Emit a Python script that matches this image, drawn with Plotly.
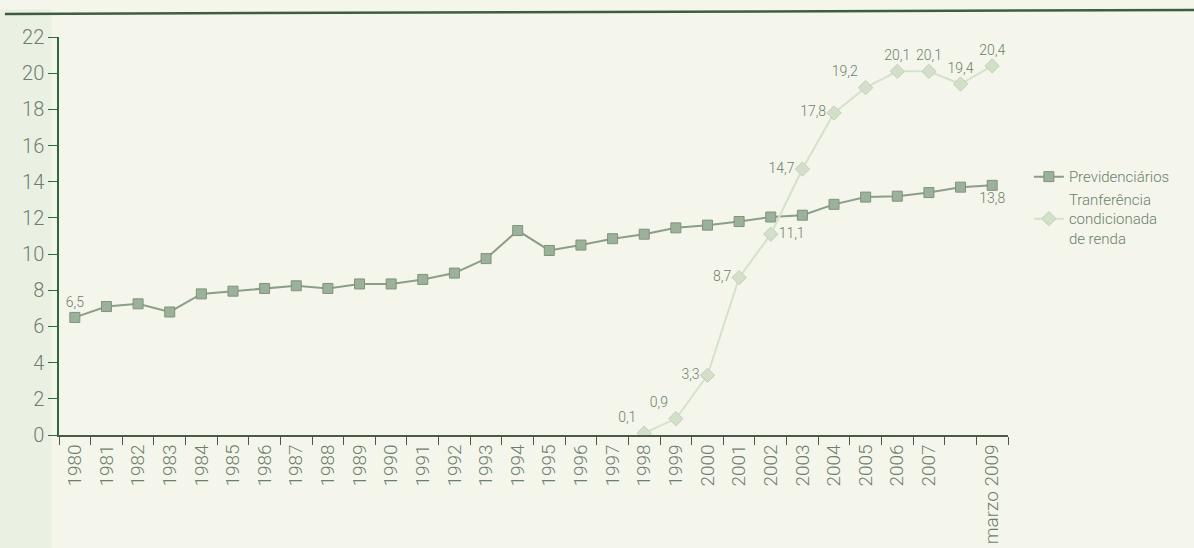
import plotly.graph_objects as go

categories = [str(y) for y in range(1980, 2008)] + [" ", "marzo 2009"]

previdenciarios = [6.5, 7.1, 7.25, 6.8, 7.8, 7.95, 8.1, 8.25, 8.1, 8.35,
                   8.35, 8.6, 8.95, 9.75, 11.3, 10.2, 10.5, 10.85, 11.1, 11.45,
                   11.6, 11.8, 12.05, 12.15, 12.75, 13.15, 13.2, 13.4, 13.7, 13.8]
prev_labels = ["6,5"] + [""] * 28 + ["13,8"]

transferencia = [None] * 18 + [0.1, 0.9, 3.3, 8.7, 11.1, 14.7, 17.8, 19.2, 20.1, 20.1, 19.4, 20.4]
trans_labels = [""] * 18 + ["0,1", "0,9", "3,3", "8,7", "11,1", "14,7", "17,8", "19,2", "20,1", "20,1", "19,4", "20,4"]
trans_pos = ["top center"] * 18 + ["top left", "top left", "middle left", "middle left", "middle right",
                                   "middle left", "middle left", "top left", "top center", "top center",
                                   "top center", "top center"]
prev_pos = ["top center"] + ["top center"] * 28 + ["bottom center"]

text_color = "#6e7e6c"
font_family = "Roboto, sans-serif"
paper = "#f4f6ec"

fig = go.Figure()

fig.add_trace(go.Scatter(
    x=categories, y=previdenciarios, name="Previdenciários",
    mode="lines+markers+text",
    text=prev_labels, textposition=prev_pos,
    textfont=dict(size=14, color=text_color, family=font_family, weight=300),
    line=dict(color="#8d9d8b", width=2),
    marker=dict(symbol="square", size=10, color="#9cb09a", line=dict(color="#7f937d", width=1)),
))

fig.add_trace(go.Scatter(
    x=categories, y=transferencia, name="Tranferência<br>condicionada<br>de renda",
    mode="lines+markers+text",
    text=trans_labels, textposition=trans_pos,
    textfont=dict(size=14, color=text_color, family=font_family, weight=300),
    line=dict(color="#d6e1cd", width=2),
    marker=dict(symbol="diamond", size=11, color="#d4dfca", line=dict(color="#c3cfba", width=1)),
    connectgaps=False,
))

fig.update_layout(
    width=1194, height=548,
    margin=dict(l=59, r=186, t=37, b=113),
    paper_bgcolor=paper,
    plot_bgcolor="rgba(0,0,0,0)",
    showlegend=True,
    legend=dict(x=1.022, y=0.69, xanchor="left", yanchor="top",
                font=dict(size=15, color=text_color, family=font_family, weight=300),
                bgcolor="rgba(0,0,0,0)", tracegroupgap=5, itemwidth=30),
    shapes=[
        dict(type="rect", xref="paper", yref="paper", x0=-0.0622, x1=-0.008, y0=-0.3, y1=1.07,
             fillcolor="#eaf1e2", line=dict(width=0), layer="below"),
        dict(type="line", xref="paper", yref="paper", x0=-0.057, x1=1.2, y0=1.058, y1=1.068,
             line=dict(color="#3d5c44", width=2.5)),
    ],
)

fig.update_xaxes(
    type="category", categoryorder="array", categoryarray=categories,
    range=[-0.5, 29.5], automargin=False,
    showgrid=False, zeroline=False,
    showline=True, linecolor="#4a5a4a", linewidth=1.5,
    ticks="outside", ticklen=8, tickcolor="#4a5a4a", tickson="boundaries",
    tickangle=-90,
    tickfont=dict(size=19, color=text_color, family=font_family, weight=300),
)

fig.update_yaxes(
    range=[0, 22], dtick=2, tick0=0, automargin=False,
    showgrid=False, zeroline=False,
    showline=True, linecolor="#2f6a3e", linewidth=1.5,
    ticks="outside", ticklen=9, tickcolor="#2f6a3e",
    tickfont=dict(size=20, color=text_color, family=font_family, weight=300),
)

fig.write_html(
    "out.html",
    config={"displayModeBar": False},
    post_script="document.body.style.margin='0';document.body.style.background='%s';" % paper,
)
